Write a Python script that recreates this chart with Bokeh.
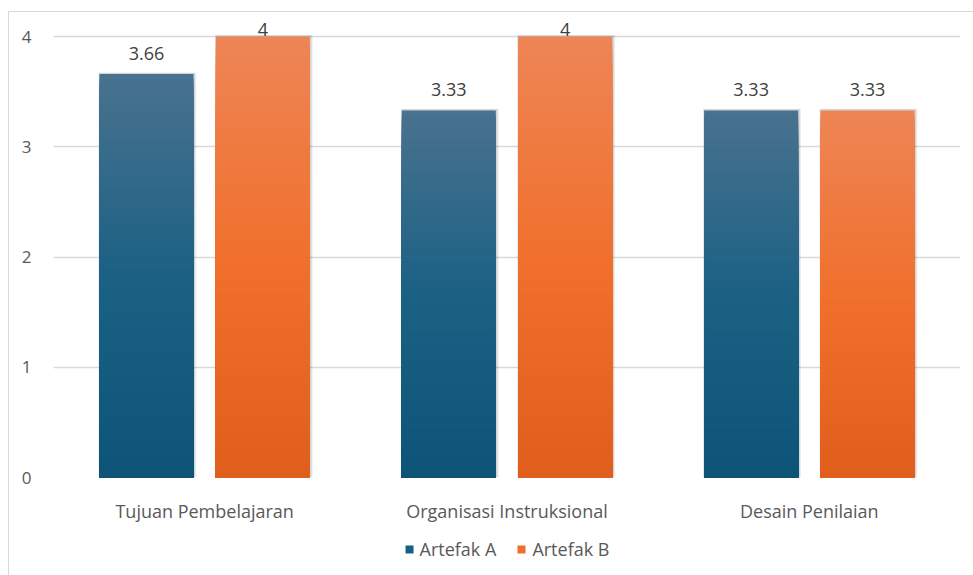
from bokeh.plotting import figure
from bokeh.layouts import column
from bokeh.models import (FactorRange, Range1d, FixedTicker, Legend, LegendItem,
                          ColumnDataSource)
from bokeh.transform import dodge
from bokeh.core.properties import value
from bokeh.embed import file_html
from bokeh.resources import INLINE

categories = ["Tujuan Pembelajaran", "Organisasi Instruksional", "Desain Penilaian"]
artefak_a = [3.66, 3.33, 3.33]
artefak_b = [4, 4, 3.33]
series_names = ["Artefak A", "Artefak B"]
y_ticks = [0, 1, 2, 3, 4]

FONT = "Open Sans"
TEXT = "#595959"

# gradient stops (top, middle, bottom)
grad_a = [(73, 114, 143), (27, 97, 132), (13, 84, 120)]
grad_b = [(238, 133, 86), (240, 112, 44), (224, 94, 28)]
legend_colors = ["#17607f", "#ee6e2c"]

def interp(stops, t):
    # t: 0 at bottom, 1 at top
    if t < 0.5:
        a, b, u = stops[2], stops[1], t / 0.5
    else:
        a, b, u = stops[1], stops[0], (t - 0.5) / 0.5
    c = [round(a[i] + (b[i] - a[i]) * u) for i in range(3)]
    return "#%02x%02x%02x" % tuple(c)

p = figure(x_range=FactorRange(*categories, range_padding=0),
           y_range=Range1d(0, 4.2),
           width=964, height=518, output_backend="svg", toolbar_location=None,
           min_border_left=44, min_border_right=13, min_border_top=2,
           min_border_bottom=53)
p.outline_line_color = None
p.background_fill_color = "white"
p.border_fill_color = "white"

p.xgrid.grid_line_color = None
p.ygrid.grid_line_color = "#d9d9d9"
p.ygrid.grid_line_width = 1.5
p.yaxis.ticker = FixedTicker(ticks=y_ticks)

for ax in (p.xaxis[0], p.yaxis[0]):
    ax.axis_line_color = None
    ax.major_tick_line_color = None
    ax.minor_tick_line_color = None
    ax.major_label_text_font = FONT
    ax.major_label_text_color = TEXT
p.yaxis.major_label_text_font_size = "17px"
p.xaxis.major_label_text_font_size = "18px"
p.yaxis.major_label_standoff = 16
p.xaxis.major_label_standoff = 15

BW = 0.311
OFF = 0.1925
N = 80

for vals, grad, off in ((artefak_a, grad_a, -OFF), (artefak_b, grad_b, OFF)):
    # soft shadow
    shadow = ColumnDataSource(dict(x=categories, top=[v + 0.012 for v in vals]))
    p.vbar(x=dodge("x", off + 0.003, range=p.x_range), width=BW + 0.013, top="top",
           bottom=0, source=shadow, fill_color="#000000", fill_alpha=0.07, line_color=None)
    p.vbar(x=dodge("x", off + 0.002, range=p.x_range), width=BW + 0.007, top="top",
           bottom=0, source=shadow, fill_color="#000000", fill_alpha=0.10, line_color=None)
    # gradient: tallest (top colour) first, each slice from 0 so no seams
    xs, tops, colors = [], [], []
    for k in range(N - 1, -1, -1):
        for c, v in zip(categories, vals):
            xs.append(c)
            tops.append(v * (k + 1) / N)
            colors.append(interp(grad, (k + 0.5) / N))
    src = ColumnDataSource(dict(x=xs, top=tops, color=colors))
    p.vbar(x=dodge("x", off, range=p.x_range), width=BW, top="top", bottom=0,
           source=src, fill_color="color", line_color=None)
    # value labels
    lab = ColumnDataSource(dict(x=categories, y=[min(v + 0.19, 4.063) for v in vals],
                                t=[("%g" % v) for v in vals]))
    p.text(x=dodge("x", off, range=p.x_range), y="y", text="t", source=lab,
           text_align="center", text_baseline="middle", text_font=value(FONT),
           text_font_size="18px", text_color="#404040")

# legend strip
lf = figure(width=964, height=45, output_backend="svg", toolbar_location=None,
            x_range=Range1d(0, 1), y_range=Range1d(0, 1),
            x_axis_location=None, y_axis_location=None,
            min_border_left=8, min_border_right=0, min_border_top=0, min_border_bottom=7)
lf.grid.visible = False
lf.outline_line_color = None
lf.border_fill_color = "white"
items = []
for name, lc in zip(series_names, legend_colors):
    proxy = lf.vbar(x=[0.5], width=0.0001, top=[0], bottom=[0], fill_color=lc, line_color=None)
    items.append(LegendItem(label=name, renderers=[proxy]))
legend = Legend(items=items, orientation="horizontal", location="center",
                label_text_font=FONT, label_text_font_size="18px",
                label_text_color=TEXT, glyph_width=10, glyph_height=10,
                label_standoff=6, spacing=20, border_line_color=None,
                background_fill_alpha=0, padding=0, margin=0)
lf.add_layout(legend, "center")

layout = column(p, lf, spacing=0)
layout.margin = (11, 0, 0, 8)
layout.styles = {"border-left": "1px solid #d9d9d9", "border-top": "1px solid #d9d9d9",
                 "background-color": "white"}

open("out.html", "w").write(file_html(layout, INLINE))
